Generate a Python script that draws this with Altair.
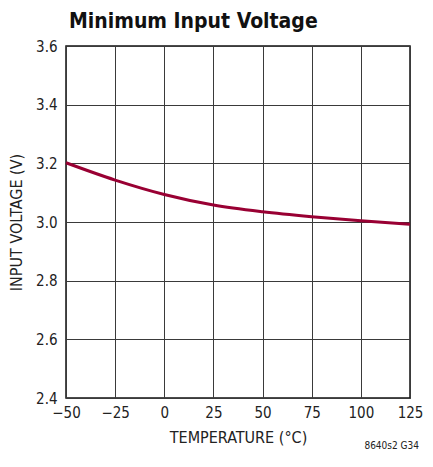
import altair as alt
import pandas as pd

temps = [-50, -25, 0, 25, 50, 75, 100, 125]
volts = [3.202, 3.143, 3.094, 3.058, 3.035, 3.018, 3.004, 2.992]
x_ticks = [-50, -25, 0, 25, 50, 75, 100, 125]
y_ticks = [2.4, 2.6, 2.8, 3.0, 3.2, 3.4, 3.6]

FONT = "Liberation Sans Narrow, DejaVu Sans Condensed, Arial Narrow, sans-serif"

df = pd.DataFrame({"t": temps, "v": volts})

line = alt.Chart(df).mark_line(color="#990033", strokeWidth=3, interpolate="monotone").encode(
    x=alt.X("t:Q", scale=alt.Scale(domain=[-50, 125], nice=False),
            axis=alt.Axis(values=x_ticks, title="TEMPERATURE (°C)",
                          labelExpr="replace(datum.label, '-', '\u2212')")),
    y=alt.Y("v:Q", scale=alt.Scale(domain=[2.4, 3.6], nice=False, zero=False),
            axis=alt.Axis(values=y_ticks, format=".1f", title="INPUT VOLTAGE (V)")),
)

note = alt.Chart(pd.DataFrame({"s": ["8640s2 G34"]})).mark_text(
    align="right", baseline="bottom", fontSize=10, font=FONT, color="#222"
).encode(x=alt.value(353), y=alt.value(405), text="s:N")

chart = alt.layer(line, note).properties(
    width=344, height=352,
    autosize=alt.AutoSizeParams(type="none"),
    padding={"left": 58, "top": 38, "right": 14, "bottom": 55},
    title=alt.Title("Minimum Input Voltage", anchor="start", frame="group", fontSize=21,
                    font=FONT, fontWeight="bold", color="#111", offset=7, dx=3),
).configure_view(stroke="#111", strokeWidth=1.5).configure_axis(
    grid=True, gridColor="#3a3a3a", gridWidth=1, gridOpacity=1,
    domain=False, ticks=False, labelFlush=False,
    labelFont=FONT, labelFontSize=15, labelColor="#222", labelPadding=9,
    titleFont=FONT, titleFontSize=16, titleFontWeight="normal", titleColor="#222",
).configure_axisX(titlePadding=9, labelPadding=7).configure_axisY(titlePadding=11)

chart.save("out.html", embed_options={"renderer": "svg", "actions": False})
